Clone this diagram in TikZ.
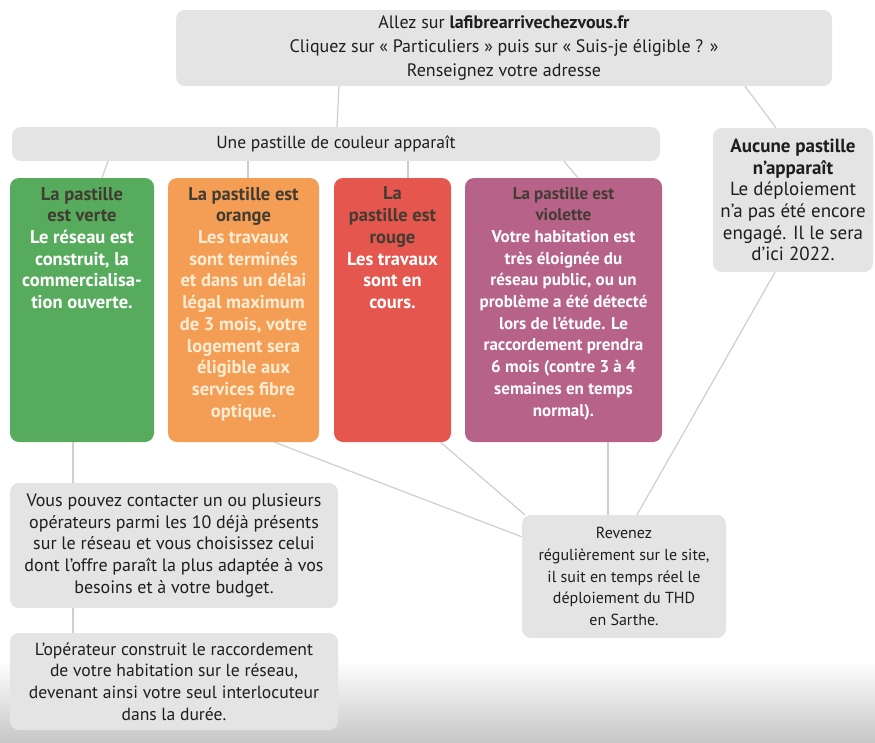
\documentclass[tikz,border=0pt]{standalone}
\usepackage{fontspec}
\setmainfont{PT Sans}
\usetikzlibrary{calc}
\definecolor{boxgray}{RGB}{228,228,228}
\definecolor{linegray}{RGB}{206,206,206}
\definecolor{cgreen}{RGB}{86,172,92}
\definecolor{corange}{RGB}{243,158,84}
\definecolor{cred}{RGB}{228,86,78}
\definecolor{cviolet}{RGB}{183,98,136}
\definecolor{headdark}{RGB}{66,60,50}
\definecolor{txtdark}{RGB}{30,30,30}
\definecolor{palecream}{RGB}{255,236,212}
\begin{document}
\begin{tikzpicture}[x=1pt,y=-1pt,
  gbox/.style={fill=boxgray, rounded corners=9pt, inner sep=0pt, align=center, text=txtdark,
    font=\fontsize{18}{21.7}\selectfont},
  cbox/.style={rounded corners=9pt, inner sep=0pt, minimum height=264pt},
  ctext/.style={anchor=north, inner sep=0pt, align=center, text=white, font=\fontsize{18.5}{21.7}\selectfont\bfseries},
  conn/.style={draw=linegray, line width=1.2pt}]
\useasboundingbox (0,0) rectangle (875,742);
\shade[top color=white, bottom color=black!22] (0,660) rectangle (875,742);

% nodes
\node[gbox, minimum width=656pt, minimum height=76pt, font=\fontsize{18}{24}\selectfont] (top) at (504,48)
  {Allez sur \textbf{lafibrearrivechezvous.fr}\\Cliquez sur « Particuliers » puis sur « Suis-je éligible ? »\\Renseignez votre adresse};
\node[gbox, minimum width=648pt, minimum height=34pt, font=\fontsize{17.5}{21.7}\selectfont] (bar) at (336,144) {Une pastille de couleur apparaît};
\node[gbox, minimum width=160pt, minimum height=144pt, font=\fontsize{19}{21.7}\selectfont] (none) at (793,200)
  {\textbf{Aucune pastille}\\\textbf{n’apparaît}\\Le déploiement\\n’a pas été encore\\engagé. Il le sera\\d’ici 2022.};

\node[cbox, fill=cgreen, minimum width=144pt] (green) at (82,310) {};
\node[cbox, fill=corange, minimum width=151pt] (orange) at (243.5,310) {};
\node[cbox, fill=cred, minimum width=117pt] (red) at (392.5,310) {};
\node[cbox, fill=cviolet, minimum width=197pt] (violet) at (563.5,310) {};

\node[ctext] (greent) at ([yshift=-9pt]green.north)
  {\textcolor{headdark}{La pastille}\\\textcolor{headdark}{est verte}\\Le réseau est\\construit, la\\commercialisa-\\tion ouverte.};
\node[ctext, text=palecream] (oranget) at ([yshift=-9pt]orange.north)
  {\textcolor{headdark}{La pastille est}\\\textcolor{headdark}{orange}\\Les travaux\\sont terminés\\et dans un délai\\légal maximum\\de 3 mois, votre\\logement sera\\éligible aux\\services fibre\\optique.};
\node[ctext] (redt) at ([yshift=-9pt]red.north)
  {\textcolor{headdark}{La}\\\textcolor{headdark}{pastille est}\\\textcolor{headdark}{rouge}\\Les travaux\\sont en\\cours.};
\node[ctext, font=\fontsize{17}{21.7}\selectfont\bfseries] (violett) at ([yshift=-9pt]violet.north)
  {\textcolor{headdark}{La pastille est}\\\textcolor{headdark}{violette}\\Votre habitation est\\très éloignée du\\réseau public, ou un\\problème a été détecté\\lors de l’étude. Le\\raccordement prendra\\6 mois (contre 3 à 4\\semaines en temps\\normal).};

\node[gbox, minimum width=328pt, minimum height=125pt] (vous) at (174,545.5)
  {Vous pouvez contacter un ou plusieurs\\opérateurs parmi les 10 déjà présents\\sur le réseau et vous choisissez celui\\dont l’offre paraît la plus adaptée à vos\\besoins et à votre budget.};
\node[gbox, minimum width=328pt, minimum height=97pt, font=\fontsize{17.6}{21.7}\selectfont] (oper) at (174,681.5)
  {L’opérateur construit le raccordement\\de votre habitation sur le réseau,\\devenant ainsi votre seul interlocuteur\\dans la durée.};
\node[gbox, minimum width=204pt, minimum height=123pt, font=\fontsize{16}{21.7}\selectfont] (rev) at (624,576.5)
  {Revenez\\régulièrement sur le site,\\il suit en temps réel le\\déploiement du THD\\en Sarthe.};

% connectors
\draw[conn] ([xshift=-165pt]top.south) -- ([xshift=1pt]bar.north);
\draw[conn] ([xshift=241pt]top.south) -- ([xshift=-17pt]none.north);
\draw[conn] ([xshift=-228pt]bar.south) -- ([xshift=20pt]green.north);
\draw[conn] ([xshift=-88pt]bar.south) -- ([xshift=4.5pt]orange.north);
\draw[conn] ([xshift=72pt]bar.south) -- ([xshift=15.5pt]red.north);
\draw[conn] ([xshift=228pt]bar.south) -- ([xshift=14.5pt]violet.north);
\draw[conn] ([xshift=-9pt]green.south) -- ([xshift=-101pt]vous.north);
\draw[conn] ([xshift=-101pt]vous.south) -- ([xshift=-101pt]oper.north);
\draw[conn] ([xshift=31pt]orange.south) -- ([yshift=-22pt]rev.north west);
\draw[conn] ([xshift=48pt]red.south) -- ([xshift=3pt]rev.north west);
\draw[conn] ([xshift=44.5pt]violet.south) -- ([xshift=-16pt]rev.north);
\draw[conn] ([xshift=-18pt]none.south) -- ([xshift=13pt]rev.north);
\end{tikzpicture}
\end{document}
